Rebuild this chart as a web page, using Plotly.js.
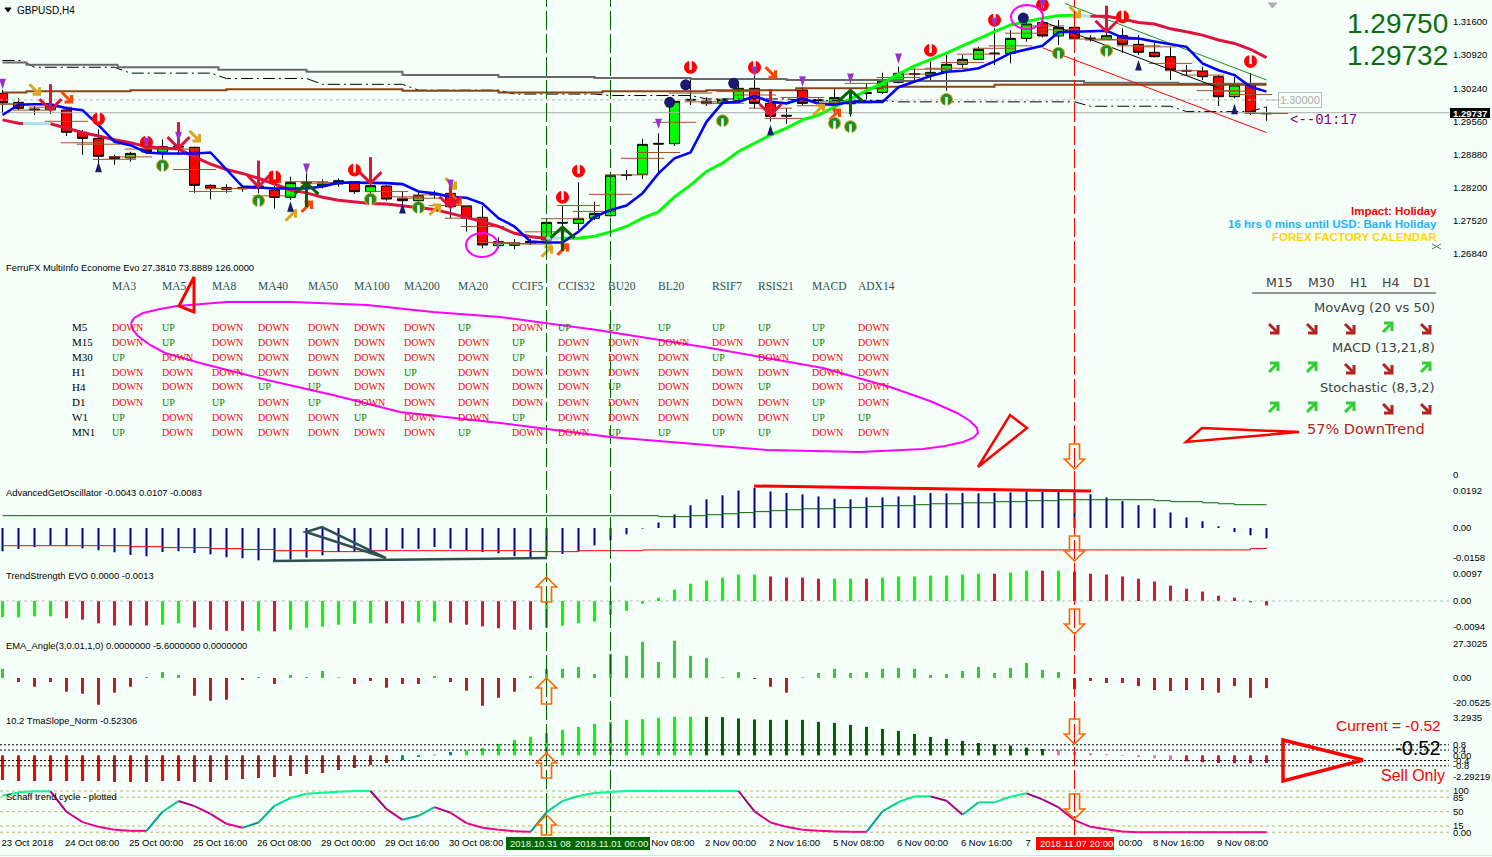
<!DOCTYPE html>
<html><head><meta charset="utf-8">
<script src="https://cdn.plot.ly/plotly-3.0.1.min.js"></script>
<style>html,body{margin:0;padding:0;background:#F5FFFA;overflow:hidden}</style></head>
<body><div id="chart" style="width:1492px;height:857px"></div>
<script>
// ---------- price panel ----------
const candleOpen=[1.30135,1.29950,1.29813,1.29806,1.29792,1.29334,1.29210,1.28834,1.28807,1.28985,1.28930,1.29046,1.29026,1.28245,1.28197,1.28197,1.28231,1.28149,1.27999,1.28307,1.28231,1.28272,1.28320,1.28115,1.28231,1.27978,1.27930,1.28067,1.28081,1.27814,1.27588,1.27006,1.27013,1.27095,1.27122,1.27485,1.27465,1.27567,1.27622,1.28464,1.28471,1.29108,1.29101,1.30012,1.29977,1.29929,1.29984,1.30238,1.29929,1.29683,1.30203,1.30005,1.29916,1.29936,1.30149,1.30155,1.30361,1.30539,1.30505,1.30580,1.30731,1.30833,1.30963,1.30956,1.31265,1.31586,1.31313,1.31491,1.31271,1.31244,1.31319,1.31141,1.30977,1.30888,1.30607,1.30587,1.30477,1.30066,1.30306,1.29731];
const candleClose=[1.29943,1.29827,1.29799,1.29875,1.29334,1.29210,1.28841,1.28793,1.28902,1.28930,1.29039,1.29032,1.28245,1.28177,1.28163,1.28177,1.28183,1.27999,1.28300,1.28293,1.28272,1.28341,1.28115,1.28238,1.27964,1.27930,1.28033,1.28053,1.27807,1.27567,1.27019,1.27088,1.27067,1.27074,1.27485,1.27471,1.27567,1.27670,1.28450,1.28450,1.29087,1.29094,1.29971,1.29998,1.29923,1.30012,1.30238,1.29929,1.29662,1.29669,1.29929,1.29991,1.30046,1.29923,1.30135,1.30388,1.30546,1.30525,1.30566,1.30731,1.30833,1.31039,1.30950,1.31265,1.31559,1.31313,1.31491,1.31265,1.31258,1.31319,1.31141,1.30977,1.30888,1.30614,1.30594,1.30477,1.30066,1.30306,1.29738,1.29717];
const candleHigh=[1.30203,1.30032,1.29875,1.29964,1.29861,1.29382,1.29395,1.28875,1.28937,1.29108,1.29190,1.29176,1.29039,1.28266,1.28266,1.28231,1.28320,1.28231,1.28423,1.28492,1.28368,1.28389,1.28320,1.28300,1.28252,1.28115,1.28094,1.28136,1.28115,1.27841,1.27821,1.27177,1.27143,1.27149,1.27499,1.27821,1.28307,1.27910,1.28450,1.28560,1.29197,1.29313,1.29998,1.30409,1.30053,1.30012,1.30374,1.30614,1.30012,1.29827,1.30258,1.30032,1.30238,1.30121,1.30340,1.30559,1.30683,1.30648,1.30785,1.30922,1.30922,1.31093,1.31470,1.31436,1.31607,1.31641,1.31641,1.31573,1.31333,1.31402,1.31470,1.31333,1.31162,1.31080,1.30717,1.30683,1.30511,1.30477,1.30546,1.29861];
const candleLow=[1.29724,1.29792,1.29690,1.29710,1.29258,1.28875,1.28642,1.28670,1.28731,1.28889,1.28793,1.28868,1.28094,1.27957,1.28094,1.28115,1.28081,1.27766,1.27944,1.27944,1.28183,1.28218,1.28067,1.28081,1.27930,1.27862,1.27670,1.27978,1.27567,1.27293,1.26951,1.26951,1.26930,1.27019,1.27088,1.27122,1.27328,1.27533,1.27601,1.28355,1.28375,1.28492,1.29053,1.29895,1.29875,1.29895,1.29964,1.29827,1.29553,1.29505,1.29895,1.29861,1.29690,1.29656,1.29998,1.30121,1.30340,1.30409,1.30374,1.30190,1.30648,1.30820,1.30717,1.30751,1.31196,1.31285,1.31128,1.31230,1.31196,1.31230,1.30970,1.30922,1.30874,1.30409,1.30511,1.30409,1.29875,1.30032,1.29690,1.29573];
const blueLine=[1.2969,1.2990,1.2991,1.2991,1.2983,1.2979,1.2948,1.2914,1.2907,1.2892,1.2890,1.2890,1.2890,1.2892,1.2856,1.2822,1.2820,1.2818,1.2818,1.2818,1.2822,1.2830,1.2830,1.2830,1.2829,1.2827,1.2812,1.2808,1.2801,1.2799,1.2787,1.2757,1.2740,1.2709,1.2707,1.2707,1.2729,1.2760,1.2774,1.2783,1.2808,1.2849,1.2880,1.2892,1.2955,1.2994,1.2996,1.3008,1.2996,1.2993,1.3003,1.2992,1.2990,1.2996,1.2996,1.2996,1.3026,1.3037,1.3049,1.3058,1.3060,1.3065,1.3079,1.3096,1.3104,1.3111,1.3139,1.3140,1.3142,1.3142,1.3128,1.3126,1.3120,1.3114,1.3109,1.3075,1.3061,1.3051,1.3027,1.3017];
const signalLine=[1.2959,1.2952,1.2951,1.2951,1.2942,1.2933,1.2926,1.2918,1.2912,1.2904,1.2901,1.2899,1.2883,1.2868,1.2857,1.2849,1.2839,1.2827,1.2815,1.2809,1.2800,1.2794,1.2791,1.2787,1.2786,1.2782,1.2779,1.2775,1.2767,1.2759,1.2750,1.2740,1.2726,1.2719,1.2716,1.2716,1.2716,1.2720,1.2729,1.2740,1.2757,1.2770,1.2801,1.2825,1.2853,1.2870,1.2894,1.2911,1.2928,1.2942,1.2959,1.2969,1.2986,1.3003,1.3019,1.3034,1.3053,1.3070,1.3083,1.3096,1.3111,1.3126,1.3140,1.3154,1.3161,1.3168,1.3173,1.3174,1.3172,1.3172,1.3166,1.3159,1.3156,1.3146,1.3140,1.3133,1.3123,1.3116,1.3104,1.3087];
const pivotTicks=[1.2992,1.2991,1.2979,1.2985,1.2956,1.2912,1.2909,1.2878,1.2883,1.2899,1.2901,1.2899,1.2857,1.2812,1.2818,1.2818,1.2818,1.2803,1.2818,1.2832,1.2829,1.2830,1.2830,1.2830,1.2812,1.2801,1.2798,1.2805,1.2783,1.2757,1.2740,1.2707,1.2705,1.2704,1.2729,1.2756,1.2783,1.2771,1.2806,1.2846,1.2880,1.2892,1.2954,1.3014,1.2996,1.2993,1.3017,1.3010,1.2983,1.2962,1.3005,1.2988,1.2996,1.2994,1.3034,1.3042,1.3046,1.3053,1.3063,1.3065,1.3077,1.3094,1.3106,1.3111,1.3137,1.3152,1.3144,1.3140,1.3125,1.3123,1.3124,1.3111,1.3109,1.3075,1.3060,1.3051,1.3019,1.3018,1.3011,1.2972];
const grayStepBars=[0,1.5,7.2,13.5,19,25,31,37,43,49,55,67.6,73.5,79];
const grayStepPrice=[1.3077,1.3072,1.3067,1.3062,1.3058,1.3051,1.3047,1.3045,1.3043,1.3041,1.3039,1.3035,1.3033,1.3033];
const brownStepBars=[0,1.5,8,14,25,31,37.5,44,49.6,55,62,79];
const brownStepPrice=[1.3015,1.3018,1.3020,1.3022,1.3019,1.3015,1.3018,1.3020,1.3024,1.3027,1.3031,1.3031];
const dashBars=[0,1.2,2,7,8,13,14,19,20,25,26,31,32,37,38,43,44,49,50,55,56,67,68,73,74,78,79];
const dashPrice=[1.3081,1.3081,1.3067,1.3067,1.3055,1.3055,1.3044,1.3044,1.3032,1.3032,1.3020,1.3020,1.3012,1.3012,1.3009,1.3009,1.3002,1.3002,1.2999,1.2999,1.2996,1.2996,1.2987,1.2987,1.2976,1.2976,1.2986];
const lastPrice=1.29737, roundLevel=1.30000;
const priceTicks=[1.316,1.3092,1.3024,1.2956,1.2888,1.282,1.2752,1.2684];
const priceTickText=["1.31600","1.30920","1.30240","1.29560","1.28880","1.28200","1.27520","1.26840"];
// event markers on the price panel
const exitBars=[6,9,17,22,35,36,43,47,58,62,65,70,78];
const exitPrice=[1.2961,1.2913,1.2842,1.2856,1.2800,1.2854,1.3067,1.3067,1.3102,1.3164,1.3195,1.3171,1.3079];
const entryBars=[10,16,23,26,45,52,53,59,66,69];
const entryPrice=[1.2865,1.2793,1.2796,1.2779,1.2957,1.2952,1.2945,1.3001,1.3096,1.3101];
const bombBars=[41.7,42.7,45.7,63.8];
const bombPrice=[1.2995,1.3031,1.3034,1.3168];
const sellTipBars=[3,11,16,23,28,48,69];
const sellTipPrice=[1.2979,1.2901,1.2822,1.2829,1.2779,1.2969,1.3140];
const buyTipBars=[19,35,53];
const buyTipPrice=[1.2829,1.2739,1.3020];
const goldDownBars=[2,12,28,67];
const goldDownPrice=[1.3022,1.2926,1.2829,1.3181];
const goldUpBars=[18,27,34,51];
const goldUpPrice=[1.2762,1.2774,1.2688,1.2979];
const orangeDownBars=[4,17,28.3,48];
const orangeDownPrice=[1.3006,1.2842,1.2798,1.3057];
const orangeUpBars=[19,35,52];
const orangeUpPrice=[1.2780,1.2692,1.2969];
const violetBars=[0,9,11,19,28,41,47,50,53,56,62,65];
const violetPrice=[1.3022,1.2901,1.2913,1.2848,1.2815,1.2940,1.3047,1.3027,1.3033,1.3074,1.3147,1.3185];
const navyBars=[6,18,25,48,71,77];
const navyPrice=[1.2873,1.2792,1.2788,1.2949,1.3082,1.2992];
// ---------- oscillators ----------
const osc1Bars=[-0.0121,-0.0109,-0.0100,-0.0090,-0.0095,-0.0106,-0.0116,-0.0126,-0.0140,-0.0147,-0.0125,-0.0121,-0.0130,-0.0137,-0.0152,-0.0157,-0.0168,-0.0176,-0.0164,-0.0154,-0.0142,-0.0125,-0.0125,-0.0116,-0.0116,-0.0107,-0.0109,-0.0099,-0.0107,-0.0116,-0.0125,-0.0131,-0.0147,-0.0154,-0.0147,-0.0135,-0.0121,-0.0090,-0.0064,-0.0033,-0.0003,0.0029,0.0071,0.0118,0.0149,0.0170,0.0195,0.0209,0.0190,0.0182,0.0175,0.0164,0.0152,0.0149,0.0159,0.0159,0.0164,0.0170,0.0182,0.0180,0.0182,0.0180,0.0183,0.0185,0.0189,0.0187,0.0187,0.0185,0.0175,0.0159,0.0140,0.0119,0.0102,0.0081,0.0055,0.0035,0.0009,-0.0021,-0.0038,-0.0054];
const osc1Green=[.0064,.0064,.0064,.0064,.0064,.0064,.0064,.0064,.0064,.0064,.0064,.0064,.0064,.0064,.0064,.0064,.0064,.0064,.0064,.0064,.0064,.0064,.0064,.0064,.0064,.0064,.0064,.0064,.0064,.0064,.0064,.0064,.0064,.0064,.0064,.0064,.0064,.0064,.0064,.0064,.0064,.0059,.0059,.0064,.0069,.0074,.0080,.0085,.0090,.0095,.0100,.0100,.0106,.0106,.0111,.0116,.0116,.0121,.0126,.0126,.0131,.0131,.0137,.0137,.0142,.0142,.0147,.0147,.0147,.0147,.0147,.0147,.0142,.0137,.0137,.0131,.0126,.0121,.0121,.0121];
const osc1Red=[-.0092,-.0092,-.0092,-.0092,-.0092,-.0092,-.0092,-.0092,-.0097,-.0097,-.0102,-.0102,-.0102,-.0107,-.0107,-.0112,-.0112,-.0118,-.0118,-.0118,-.0123,-.0123,-.0123,-.0118,-.0118,-.0118,-.0118,-.0118,-.0118,-.0118,-.0118,-.0118,-.0118,-.0123,-.0123,-.0123,-.0118,-.0118,-.0118,-.0118,-.0114,-.0114,-.0114,-.0114,-.0114,-.0114,-.0114,-.0114,-.0114,-.0114,-.0114,-.0114,-.0114,-.0114,-.0114,-.0114,-.0114,-.0114,-.0114,-.0114,-.0114,-.0114,-.0114,-.0114,-.0114,-.0114,-.0114,-.0114,-.0114,-.0114,-.0114,-.0114,-.0114,-.0114,-.0114,-.0114,-.0114,-.0114,-.0107,-.0102];
const trendBars=[-.0058,-.0059,-.0055,-.0055,-.0062,-.0067,-.0080,-.0088,-.0088,-.0088,-.0085,-.0080,-.0095,-.0103,-.0107,-.0107,-.0107,-.0109,-.0103,-.0096,-.0092,-.0085,-.0082,-.0080,-.0080,-.0080,-.0077,-.0074,-.0078,-.0085,-.0091,-.0098,-.0103,-.0103,-.0095,-.0089,-.0080,-.0074,-.0049,-.0035,-.0010,.0012,.0041,.0062,.0073,.0084,.0095,.0095,.0088,.0084,.0084,.0080,.0080,.0080,.0080,.0084,.0088,.0088,.0091,.0091,.0095,.0098,.0098,.0102,.0109,.0109,.0109,.0106,.0098,.0095,.0088,.0080,.0070,.0055,.0044,.0034,.0019,.0012,-.0005,-.0016];
const trendColorKey="GGGGRRRRRRGGRRRRGRGGGGGGRRGGRRRRRRGGGGGGGGGGGGGGRRRRGGRGGGGGGGRGGRGRRRRRRRRRRRRR".slice(0,80);
const emaBars=[7.3,-3.2,-7.0,-3.2,-11.0,-12.6,-21.5,-11.8,-7.0,.8,4.8,2.4,-14.3,-18.3,-17.5,-1.6,.8,-4.8,2.4,.8,5.6,.5,-4.8,-2.4,-7.8,-4.8,-4.8,1.6,-3.2,-10.2,-22.3,-15.9,-11.0,1.6,7.3,7.3,8.9,3.2,19.4,17.8,29.1,12.9,29.9,17.8,16.1,.5,4.8,-.8,-7.0,-11.8,.5,4.0,7.3,4.0,4.8,7.3,8.1,7.3,2.4,3.2,5.6,8.9,4.0,8.1,12.1,6.5,4.8,-8.9,-2.4,-4.0,-4.0,-6.5,-9.7,-10.5,-9.7,-9.7,-11.8,-6.5,-15.9,-8.1];
const tmaBars=[-1.89,-1.96,-1.96,-1.96,-1.96,-1.96,-1.96,-2.04,-2.04,-2.04,-1.96,-1.96,-2.04,-2.04,-1.89,-1.81,-1.73,-1.66,-1.58,-1.43,-1.35,-1.12,-.97,-.74,-.59,-.36,-.13,.05,.26,.36,.56,.87,1.17,1.40,1.71,1.94,2.17,2.40,2.55,2.70,2.75,2.86,2.93,2.93,2.93,2.91,2.81,2.73,2.70,2.70,2.70,2.55,2.47,2.32,2.17,2.01,1.86,1.63,1.40,1.25,1.10,.94,.84,.74,.59,.48,.38,.26,.15,.08,-.05,-.13,-.23,-.38,-.46,-.54,-.59,-.61,-.61,-.59];
const tmaColorKey="RRRRRRRFRFRRFFFFFFFFFFFFFTTTTLLLLLLLLLLLLLLLDDDDDDDDDDDDDDDDDDDDDDPPPPPPPPCCCCCC".slice(0,80);
const schaffLine=[88.6,96.7,99.2,99.2,49.6,24.4,13.0,5.7,3.3,3.3,49.6,75.6,63.4,44.7,20.3,10.6,23.6,64.2,82.9,93.5,95.9,98.4,100,100,56.1,30.1,39.8,61.0,47.2,22.0,10.6,5.7,2.4,.8,48.8,75.6,87.8,95.1,97.6,100,100,100,100,100,100,100,100,50.4,23.6,13.0,5.7,3.3,1.6,.8,.8,50.4,73.2,87.0,87.0,76.4,42.3,72.4,72.4,86.2,94.3,79.7,60.2,29.3,13.0,7.3,1.6,0,0,0,0,0,0,0,0,0];
const schaffLevels=[100,85,50,15,0];
const tmaLevels=[.8,.4,-.4,-.8];
// ---------- axes text ----------
const timeTickPos=[1.55,5.6,9.6,13.6,17.6,21.6,25.6,29.6,41.9,45.5,49.5,53.5,57.5,61.5,64.1,70.5,73.5,77.5];
const timeLabels=["23 Oct 2018","24 Oct 08:00","25 Oct 00:00","25 Oct 16:00","26 Oct 08:00","29 Oct 00:00","29 Oct 16:00","30 Oct 08:00","Nov 08:00","2 Nov 00:00","2 Nov 16:00","5 Nov 08:00","6 Nov 00:00","6 Nov 16:00","7","00:00","8 Nov 16:00","9 Nov 08:00"];
const entryLineBars=[34,38], exitLineBar=67;
// ---------- info table ----------
const tableCols=["MA3","MA5","MA8","MA40","MA50","MA100","MA200","MA20","CCIF5","CCIS32","BU20","BL20","RSIF7","RSIS21","MACD","ADX14"];
const tableRows=["M5","M15","M30","H1","H4","D1","W1","MN1"];
const tableCells=[
"D U D D D D D U D U U U U U U D",
"D U D D D D D D U D D D D D U D",
"U D D D D D D D U D D D U D D D",
"D D D D D D U D D D D D D D D D",
"D D D U U D D D D D U D D U D D",
"D U U D U D D D D D D D D D U D",
"U D D D D U D D U D D D D D U U",
"U D D D D D D U D D U U U U D D"];
const tableColX=[111,161,211,257,307,353,403,457,511,557,607,657,711,757,811,857];
const dashHeads=["M15","M30","H1","H4","D1"];
const dashHeadX=[1279,1321,1358,1390,1422];
const dashArrowX=[1273,1311,1349,1387,1425];
const dashRows=[{t:"MovAvg (20 vs 50)",a:"DDDUD"},{t:"MACD (13,21,8)",a:"UUDDU"},{t:"Stochastic (8,3,2)",a:"UUUDD"}];

// ---------- geometry ----------
const W=1492,H=857,PLOT_R=1449;
const bars=candleOpen.map((_,i)=>i);
const xRange=[(0-2.5)/16,(PLOT_R-2.5)/16];
const dom=(t,b)=>[1-b/H,1-t/H];
const MAIN_P0=1.32052,PX_P=0.0002054,DX=1/16;
const FONT="Liberation Sans, Arial, sans-serif";
const traces=[];
function sc(x,y,axis,color,width,extra){return Object.assign({type:'scatter',mode:'lines',x,y,yaxis:axis,xaxis:'x',hoverinfo:'skip',showlegend:false,line:{color,width}},extra||{});}
function glyph(xs,ys,pts){const X=[],Y=[];xs.forEach((x0,k)=>{pts.forEach(s=>{s.forEach(p=>{X.push(x0+p[0]*DX);Y.push(ys[k]-p[1]*PX_P);});X.push(null);Y.push(null);});});return [X,Y];}
const GL_DOWN=[[[-5,-5],[5,5]],[[5,-2],[5,5],[-2,5]]], GL_UP=[[[-5,5],[5,-5]],[[-2,-5],[5,-5],[5,2]]];
const GL_SELL=[[[0,-26],[0,0]],[[-11,-11],[0,0],[11,-11]]], GL_BUY=[[[0,24],[0,0]],[[-12,11],[0,0],[12,11]]];

// price panel
traces.push(sc([xRange[0],80.5],[roundLevel,roundLevel],'y','#B5B5B5',1,{line:{color:'#B5B5B5',width:1,dash:'3px,3px'}}));
traces.push(sc(xRange,[lastPrice,lastPrice],'y','#ABABAB',1));
traces.push(sc(dashBars,dashPrice,'y','#000',1,{line:{color:'#000',width:1,dash:'12px,4px,2px,4px'}}));
traces.push({type:'candlestick',x:bars,open:candleOpen,high:candleHigh,low:candleLow,close:candleClose,xaxis:'x',yaxis:'y',whiskerwidth:0,hoverinfo:'skip',showlegend:false,
 increasing:{line:{color:'#000',width:1},fillcolor:'#00FF00'},decreasing:{line:{color:'#000',width:1},fillcolor:'#FF0000'}});
traces.push(sc(grayStepBars,grayStepPrice,'y','#696969',2,{line:{color:'#696969',width:2,shape:'hv'}}));
traces.push(sc(brownStepBars,brownStepPrice,'y','#8B4513',2,{line:{color:'#8B4513',width:2,shape:'hv'}}));
traces.push(sc(bars,pivotTicks,'y','#A0522D',1,{mode:'markers',marker:{symbol:'line-ew',size:31,line:{color:'#A0522D',width:1}}}));
// channel
traces.push(sc([66.4,79],[1.3198,1.3041],'y','#228B22',1));
traces.push(sc([65,76],[1.3161,1.3025],'y','#000',1));
traces.push(sc([65,79],[1.3107,1.2933],'y','#FF0000',1));
// signal line in state colours
const signalSeg=[[0,1.3,'#DC143C'],[1.3,3,'#B0E0E6'],[3,34,'#DC143C'],[34,35,'#B0E0E6'],[35,67,'#00FF00'],[67,68,'#B0E0E6'],[68,79,'#DC143C']];
signalSeg.forEach(s=>{const a=Math.ceil(s[0]),b=Math.floor(s[1]);const xs=[],ys=[];for(let i=a;i<=b;i++){xs.push(i);ys.push(signalLine[i]);}
 if(s[0]!==a){xs.unshift(s[0]);ys.unshift(signalLine[Math.floor(s[0])]+(signalLine[a]-signalLine[Math.floor(s[0])])*(s[0]-Math.floor(s[0])));}
 if(s[1]!==b){xs.push(s[1]);ys.push(signalLine[b]+(signalLine[b+1]-signalLine[b])*(s[1]-b));}
 traces.push(sc(xs,ys,'y',s[2],3));});
traces.push(sc(bars,blueLine,'y','#0000FF',2.6));
function poly(xs,ys,pts,color,w){const g=glyph(xs,ys,pts);traces.push(sc(g[0],g[1],'y',color,w));}
poly(goldDownBars,goldDownPrice,GL_DOWN,'#DAA520',3);
poly(goldUpBars,goldUpPrice,GL_UP,'#DAA520',3);
poly(orangeDownBars,orangeDownPrice,GL_DOWN,'#FF4500',3);
poly(orangeUpBars,orangeUpPrice,GL_UP,'#FF4500',3);
poly(buyTipBars,buyTipPrice,GL_BUY,'#006400',3);
poly(sellTipBars,sellTipPrice,GL_SELL,'#DC143C',3);
const mk=(x,y,symbol,size,color,line,extra)=>sc(x,y,'y',color,1,Object.assign({mode:'markers',marker:{symbol,size,color,line:line||{width:0}}},extra||{}));
traces.push(mk(exitBars,exitPrice,'circle',13,'#FF0000'));
traces.push(mk(exitBars,exitPrice.map(v=>v+0.0006),'line-ns-open',8,'#fff',{color:'#fff',width:2.5}));
traces.push(mk(entryBars,entryPrice,'circle',12,'#228B22',{color:'#DAA520',width:1}));
traces.push(mk(entryBars,entryPrice.map(v=>v-0.0005),'line-ns-open',7,'#fff',{color:'#fff',width:2.5}));
traces.push(mk(bombBars,bombPrice,'circle',11,'#191970'));
traces.push(mk(violetBars,violetPrice,'arrow',11,'#9932CC',null,{marker:{symbol:'arrow',size:11,color:'#9932CC',angle:180,line:{width:0}}}));
traces.push(mk(navyBars,navyPrice,'arrow',11,'#191970',null,{marker:{symbol:'arrow',size:11,color:'#191970',line:{width:0}}}));

// oscillators
const bar=(y,axis,colors,wpx)=>({type:'bar',x:bars,y,yaxis:axis,xaxis:'x',width:wpx/16,marker:{color:colors,line:{width:0}},hoverinfo:'skip',showlegend:false});
traces.push(bar(osc1Bars,'y2','#00008B',2));
traces.push(sc(bars,osc1Green,'y2','#006400',1,{line:{color:'#006400',width:1,shape:'hv'}}));
traces.push(sc(bars,osc1Red,'y2','#FF0000',1,{line:{color:'#FF0000',width:1,shape:'hv'}}));
const trendPal={G:'#00FF00',R:'#DC143C'};
traces.push(bar(trendBars,'y3',bars.map(i=>trendPal[trendColorKey[i]]),3));
traces.push(sc(xRange,[0,0],'y3','#BBB',1,{line:{color:'#BBBBBB',width:1,dash:'3px,3px'}}));
traces.push(bar(emaBars,'y4',emaBars.map(v=>v>=0?'#32CD32':'#B22222'),3));
const tmaPal={R:'#FF0000',F:'#B22222',T:'#008B8B',L:'#00FF00',D:'#006400',P:'#FF69B4',C:'#DC143C'};
traces.push(bar(tmaBars,'y5',bars.map(i=>tmaPal[tmaColorKey[i]]),3));
tmaLevels.forEach(v=>traces.push(sc(xRange,[v,v],'y5','#000',1,{line:{color:'#000',width:1,dash:'2px,2px'}})));
schaffLevels.forEach(v=>traces.push(sc(xRange,[v,v],'y6','#BDB76B',1,{line:{color:'#BDB76B',width:1,dash:'3px,3px'}})));
function mix(a,b,t){const h=c=>[1,3,5].map(k=>parseInt(c.substr(k,2),16));const A=h(a),B=h(b);return 'rgb('+A.map((v,k)=>Math.round(v+(B[k]-v)*t)).join(',')+')';}
let rising=true;
for(let i=0;i<schaffLine.length-1;i++){const a=schaffLine[i],b=schaffLine[i+1];if(b>a)rising=true;else if(b<a)rising=false;const t=Math.min(1,(a+b)/2/100);
 traces.push(sc([i,i+1],[a,b],'y6',rising?mix('#007F8F','#00FF99',t):mix('#FF0090','#800080',t),2));}

// ---------- decoration ----------
const shapes=[],ann=[];
const Px=x=>x/W,Py=y=>1-y/H;
function path(pts,color,w,close,fill){const d=pts.map((p,i)=>(i?'L ':'M ')+Px(p[0]).toFixed(5)+' '+Py(p[1]).toFixed(5)).join(' ')+(close?' Z':'');
 shapes.push({type:'path',xref:'paper',yref:'paper',path:d,line:{color,width:w},fillcolor:fill||'rgba(0,0,0,0)',layer:'above'});}
function txt(x,y,text,size,color,anchor,family,extra){ann.push(Object.assign({xref:'paper',yref:'paper',x:Px(x),y:Py(y),text,showarrow:false,xanchor:anchor||'left',yanchor:'middle',font:{size,color,family:family||FONT},borderpad:0},extra||{}));}
function rect(x0,y0,x1,y1,fill){shapes.push({type:'rect',xref:'paper',yref:'paper',x0:Px(x0),x1:Px(x1),y0:Py(y0),y1:Py(y1),fillcolor:fill,line:{width:0},layer:'above'});}
// vertical session lines
entryLineBars.forEach(b=>shapes.push({type:'line',xref:'x',yref:'paper',x0:b,x1:b,y0:Py(835),y1:1,line:{color:'#006400',width:1,dash:'19px,4px'},layer:'above'}));
shapes.push({type:'line',xref:'x',yref:'paper',x0:exitLineBar,x1:exitLineBar,y0:Py(835),y1:1,line:{color:'#FF0000',width:1,dash:'19px,4px'},layer:'above'});
// magenta ellipses
function ell(cx,cy,rx,ry){const p=[];for(let k=0;k<=36;k++){const a=k/36*2*Math.PI;p.push([cx+rx*Math.cos(a),cy+ry*Math.sin(a)]);}path(p,'#FF00FF',2);}
ell(482,245,16,12);ell(1027,17,16,12);
path([[131,323],[134,318],[143,313],[160,309],[177,306],[227,302],[293,302],[367,305],[433,312],[500,317],[597,330],[710,348],[823,368],[890,387],[930,401],[957,413],[970,421],[977,428],[978,433],[973,438],[963,442],[945,446],[923,449],[860,452],[767,450],[610,437],[500,423],[400,412],[333,395],[267,380],[200,363],[165,353],[150,345],[138,336],[133,330],[131,323]],'#FF00FF',2);
// hand-drawn objects
path([[194,277],[179,306],[194,312]],'#FF0000',3,true);
path([[978,467],[1010,415],[1027,428]],'#FF0000',2.5,true);
path([[1186,442],[1202,428],[1299,432]],'#FF0000',2.5,true);
path([[1283,740],[1363,760],[1283,781]],'#FF0000',3.5,true);
path([[306,532],[322,527],[386,558]],'#2F4F4F',2.5,true);
path([[273,561],[547,558]],'#2F4F4F',2.5);
path([[754,486],[1091,491]],'#FF0000',3);
// hollow arrows
function holUp(x,t,b){path([[x,t],[x+10,t+10],[x+5,t+10],[x+5,b],[x-5,b],[x-5,t+10],[x-10,t+10]],'#FF6A00',1.7,true);}
function holDn(x,t){const b=t+25;path([[x,b],[x+10,b-10],[x+5,b-10],[x+5,t],[x-5,t],[x-5,b-10],[x-10,b-10]],'#FF6A00',1.7,true);}
[[577,602],[678,704],[753,778],[815,835]].forEach(a=>holUp(546.5,a[0],a[1]));
[444,536,609,719,794].forEach(t=>holDn(1074.5,t));
// top-of-chart text
path([[5,8],[11,8],[8,12]],'#000',1,true,'#000');
txt(16,10,'GBPUSD,H4',10,'#000');
path([[1268,3],[1277,3],[1272.5,8]],'#B0B0B0',1,true,'#B0B0B0');
txt(1346,24,'1.29750',28,'#0E6E0E','left','Liberation Sans');
txt(1346,56,'1.29732',28,'#0E6E0E','left','Liberation Sans');
txt(1289,120,'<--01:17',14,'#800080','left','Liberation Mono');
txt(1278,100.5,'1.30000',11,'#ABABAB','left',FONT,{bordercolor:'#BDBDBD',borderwidth:1,borderpad:1});
path([[1267,100],[1278,100]],'#BDBDBD',1);
rect(1450,108,1490,118,'#000');
txt(1452,113,'1.29737',9.5,'#fff','left',FONT+'',{font:{size:9.5,color:'#fff',family:FONT,weight:700}});
txt(1438,211,'Impact: Holiday',11.5,'#FF0000','right',FONT,{font:{size:11.5,color:'#FF0000',family:FONT,weight:700}});
txt(1438,224,'16 hrs 0 mins until USD: Bank Holiday',11.5,'#1EB4FF','right',FONT,{font:{size:11.5,color:'#1EB4FF',family:FONT,weight:700}});
txt(1438,237,'FOREX FACTORY CALENDAR',11.5,'#FFD700','right',FONT,{font:{size:11.5,color:'#FFD700',family:FONT,weight:700}});
// panel captions
txt(5,267.5,'FerruFX MultiInfo Econome Evo 27.3810 73.8889 126.0000',9.4,'#000');
txt(5,492,'AdvancedGetOscillator -0.0043 0.0107 -0.0083',9.4,'#000');
txt(5,575.5,'TrendStrength EVO 0.0000 -0.0013',9.4,'#000');
txt(5,645.5,'EMA_Angle(3,0.01,1,0) 0.0000000 -5.6000000 0.0000000',9.4,'#000');
txt(5,720.5,'10.2 TmaSlope_Norm -0.52306',9.4,'#000');
txt(5,796,'Schaff trend cycle - plotted',9.4,'#000');
// info table
const SERIF='Liberation Serif, Times New Roman, serif';
tableCols.forEach((c,k)=>txt(tableColX[k],286,c,11.5,'#2F4F4F','left',SERIF));
tableRows.forEach((r,j)=>{const y=327+15*j;txt(71,y,r,11,'#000','left',SERIF);
 tableCells[j].split(' ').forEach((v,k)=>txt(tableColX[k],y,v==='U'?'UP':'DOWN',10,v==='U'?'#008000':'#FF0000','left',SERIF));});
// trend dashboard
const DJV='DejaVu Sans, Verdana, sans-serif';
dashHeads.forEach((h,k)=>txt(dashHeadX[k],282.5,h,12.5,'#404040','center',DJV));
path([[1252,293],[1436,293]],'#303030',1);
function miniArrow(cx,cy,dir){const s=dir==='U'?-1:1,col=dir==='U'?'#32CD32':'#B22222';path([[cx-4,cy-4*s],[cx+5,cy+5*s]],col,3);path([[cx-3,cy+5*s],[cx+5,cy+5*s],[cx+5,cy-3*s]],col,3);}
dashRows.forEach((r,j)=>{const y=307.5+40*j;txt(1436,y,r.t,13,'#404040','right',DJV);
 r.a.split('').forEach((d,k)=>miniArrow(dashArrowX[k],y+20.5,d));});
txt(1306,428.5,'57% DownTrend',14.5,'#B22222','left',DJV);
// slope call-outs
txt(1442,725.5,'Current = -0.52',15.5,'#FF0000','right');
txt(1442,748,'-0.52',20,'#000','right');
txt(1446,775,'Sell Only',16,'#FF0000','right');
// skull
path([[1432,244],[1441,249]],'#666',1);path([[1441,244],[1432,249]],'#666',1);
// highlighted time labels
rect(506,837,650,850,'#006400');
rect(1036,837,1114,850,'#FF0000');
txt(509,843.5,'2018.10.31 08',9.5,'#E8FFE8');
txt(574,843.5,'2018.11.01 00:00',9.5,'#E8FFE8');
txt(1039,843.5,'2018.11.07 20:00',9.5,'#fff');
path([[0,855.5],[1492,855.5]],'#E2E2E2',1);

const yBase={side:'right',anchor:'x',showgrid:false,zeroline:false,showline:false,ticks:'outside',ticklen:1,tickcolor:'rgba(0,0,0,0)',tickmode:'array',tickfont:{size:9.5,color:'#000',family:FONT},fixedrange:true};
const layout={width:W,height:H,autosize:false,margin:{l:0,r:0,t:0,b:0},paper_bgcolor:'#F5FFFA',plot_bgcolor:'#F5FFFA',showlegend:false,barmode:'overlay',boxgap:0.38,boxgroupgap:0,dragmode:false,
 xaxis:{domain:[0,PLOT_R/W],range:xRange,anchor:'y6',showgrid:false,zeroline:false,showline:false,ticks:'',ticklen:0,rangeslider:{visible:false},tickmode:'array',tickvals:timeTickPos,ticktext:timeLabels,tickangle:0,tickfont:{size:9.5,color:'#000',family:FONT},fixedrange:true,automargin:false},
 yaxis:Object.assign({},yBase,{domain:dom(0,262),range:[MAIN_P0-262*PX_P,MAIN_P0],tickvals:priceTicks,ticktext:priceTickText}),
 yaxis2:Object.assign({},yBase,{domain:dom(468,565),range:[-37*.00052,60*.00052],tickvals:[.02756,.01924,0,-.0156],ticktext:['0','0.0192','0.00','-0.0158']}),
 yaxis3:Object.assign({},yBase,{domain:dom(568,640),range:[-39*.000359,33*.000359],tickvals:[.00969,0,-.00933],ticktext:['0.0097','0.00','-0.0094']}),
 yaxis4:Object.assign({},yBase,{domain:dom(640,712),range:[-34*.803,38*.803],tickvals:[27.3,0,-20.07],ticktext:['27.3025','0.00','-20.0525']}),
 yaxis5:Object.assign({},yBase,{domain:dom(712,786),range:[-30.7*.0762,43.3*.0762],tickvals:[2.84,.8,.4,0,-.4,-.8,-1.65],ticktext:['3.2935','0.8','0.4','0.00','-0.4','-0.8','-2.29219']}),
 yaxis6:Object.assign({},yBase,{domain:dom(786,835),range:[-2.8*2.427,46.2*2.427],tickvals:[100,85,50,15,0],ticktext:['100','85','50','15','0.00']}),
 shapes,annotations:ann};
Plotly.newPlot('chart',traces,layout,{staticPlot:true,displayModeBar:false,responsive:false});
</script></body></html>
